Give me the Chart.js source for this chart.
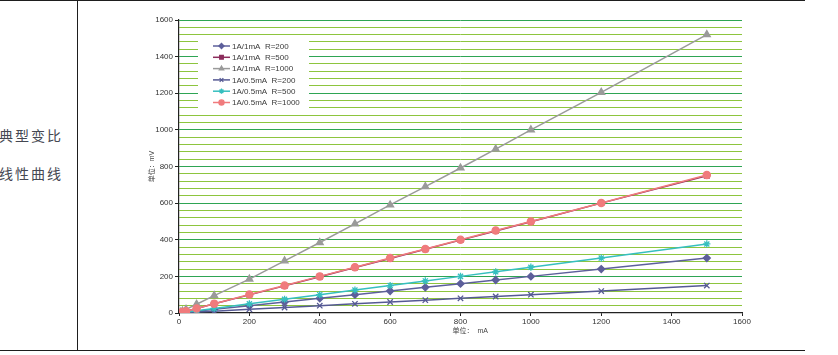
<!DOCTYPE html>
<html>
<head>
<meta charset="utf-8">
<script src="https://cdn.jsdelivr.net/npm/chart.js@4.4.1/dist/chart.umd.min.js"></script>
<style>
  html, body { margin: 0; padding: 0; background: #fff; }
  body { width: 838px; height: 355px; position: relative; overflow: hidden; }
  .hline { position: absolute; left: 0; width: 805px; height: 1px; background: #1e1e1e; }
  .vline { position: absolute; left: 77px; top: 0; width: 1px; height: 351px; background: #1e1e1e; }
  .label { position: absolute; right: 775px; font-family: "Noto Sans CJK SC", sans-serif; font-size: 14px;
           letter-spacing: 2px; color: #454852; white-space: nowrap; line-height: 16px; }
  #chart { position: absolute; left: 0; top: 0; }
</style>
</head>
<body>
<div class="hline" style="top:0"></div>
<div class="hline" style="top:350px"></div>
<div class="vline"></div>
<div class="label" style="top:127px">典型变比</div>
<div class="label" style="top:165px">线性曲线</div>
<canvas id="chart" width="838" height="355"></canvas>
<script>
// current in mA
const currents = [5, 10, 20, 50, 100, 200, 300, 400, 500, 600, 700, 800, 900, 1000, 1200, 1500];

// output in mV
const ratio1mA_R200  = [1, 2, 4, 10, 20, 40, 60, 80, 100, 120, 140, 160, 180, 200, 240, 300];
const ratio1mA_R500  = [2.5, 5, 10, 25, 50, 99, 148, 198, 248, 298, 348, 398, 448, 498, 600, 750];
const ratio1mA_R1000 = [5, 10, 20, 48, 95, 185, 285, 385, 487, 590, 690, 792, 895, 1000, 1205, 1520];
const ratio05mA_R200  = [0.5, 1, 2, 5, 10, 20, 30, 40, 50, 60, 70, 80, 90, 100, 120, 150];
const ratio05mA_R500  = [1.25, 2.5, 5, 12.5, 25, 50, 75, 100, 125, 150, 175, 200, 225, 250, 300, 377];
const ratio05mA_R1000 = [2.5, 5, 10, 25, 50, 101, 150, 200, 250, 300, 350, 400, 450, 500, 601, 754];

const seriesNames = ['1A/1mA  R=200', '1A/1mA  R=500', '1A/1mA  R=1000',
                     '1A/0.5mA  R=200', '1A/0.5mA  R=500', '1A/0.5mA  R=1000'];

const yTicksMax = 1600;
const xTicksMax = 1600;

const FONT = '"Liberation Sans", "Noto Sans CJK SC", sans-serif';
const MAJOR_GRID = '#2ea554';
const MINOR_GRID = '#8dc53e';

function makeSet(i, values, color, style, radius) {
    return {
        label: seriesNames[i],
        data: currents.map((c, k) => ({ x: c, y: values[k] })),
        borderColor: color,
        backgroundColor: color,
        borderWidth: 1.5,
        pointStyle: style,
        pointRadius: radius,
        pointBorderWidth: 1.3,
        pointBackgroundColor: color,
        pointBorderColor: color,
        tension: 0,
        order: 6 - i
    };
}

const datasets = [
    makeSet(0, ratio1mA_R200, '#5d5f9b', 'rectRot', 3.5),
    makeSet(1, ratio1mA_R500, '#8c2d5c', 'rect', 3.3),
    makeSet(2, ratio1mA_R1000, '#9a9a9a', 'triangle', 4),
    makeSet(3, ratio05mA_R200, '#555994', 'crossRot', 3.8),
    makeSet(4, ratio05mA_R500, '#36bfbf', 'star', 3.6),
    makeSet(5, ratio05mA_R1000, '#f07b7d', 'circle', 3.6)
];

// legend drawn inside the plot, white box over the gridlines
const innerLegend = {
    id: 'innerLegend',
    afterDatasetsDraw(chart) {
        const ctx = chart.ctx;
        ctx.save();
        ctx.fillStyle = '#fff';
        ctx.fillRect(198, 37, 111, 76);
        ctx.font = '8px ' + FONT;
        ctx.textBaseline = 'middle';
        chart.data.datasets.forEach((ds, i) => {
            const y = 46 + i * 11.3;
            ctx.strokeStyle = ds.borderColor;
            ctx.lineWidth = 1.5;
            ctx.beginPath();
            ctx.moveTo(213, y);
            ctx.lineTo(230, y);
            ctx.stroke();
            ctx.fillStyle = ds.borderColor;
            ctx.lineWidth = 1.2;
            if (Chart.helpers && Chart.helpers.drawPoint) {
                Chart.helpers.drawPoint(ctx, { pointStyle: ds.pointStyle, radius: 2.6, rotation: 0, borderWidth: 1.2 }, 221.5, y);
            }
            ctx.fillStyle = '#3a3a3a';
            ctx.fillText(ds.label, 232, y + 0.5);
        });
        ctx.restore();
    }
};

new Chart(document.getElementById('chart'), {
    type: 'line',
    data: { datasets: datasets },
    plugins: [innerLegend],
    options: {
        responsive: false,
        animation: false,
        devicePixelRatio: 1,
        layout: { padding: { left: 148, right: 96, top: 20, bottom: 20 } },
        plugins: {
            legend: { display: false },
            tooltip: { enabled: false }
        },
        scales: {
            x: {
                type: 'linear',
                min: 0,
                max: xTicksMax,
                afterFit: s => { s.height = 22; },
                ticks: {
                    stepSize: 200,
                    color: '#333',
                    font: { family: FONT, size: 8 },
                    padding: 1,
                    maxRotation: 0,
                    callback: v => String(v)
                },
                grid: { drawOnChartArea: false, tickLength: 3, tickColor: '#222', tickWidth: 1 },
                border: { color: '#222', width: 1.2 },
                title: { display: true, text: '          单位：  mA', color: '#444', font: { family: FONT, size: 7 }, padding: 0 }
            },
            y: {
                type: 'linear',
                min: 0,
                max: yTicksMax,
                afterFit: s => { s.width = 31; },
                ticks: {
                    stepSize: 40,
                    autoSkip: false,
                    color: '#333',
                    font: { family: FONT, size: 8 },
                    padding: 2,
                    callback: v => (v % 200 === 0 ? String(v) : '')
                },
                grid: {
                    tickLength: 4,
                    lineWidth: 1,
                    color: c => {
                        const v = c.tick ? c.tick.value : 0;
                        if (v === 0) return 'rgba(0,0,0,0)';
                        return v % 200 === 0 ? MAJOR_GRID : MINOR_GRID;
                    },
                    tickColor: c => (c.tick && c.tick.value % 200 === 0 ? '#222' : 'rgba(0,0,0,0)'),
                    tickWidth: 1
                },
                border: { color: '#222', width: 1.2 },
                title: { display: true, text: '单位：mV', color: '#444', font: { family: FONT, size: 7 }, padding: 0 }
            }
        }
    }
});
</script>
</body>
</html>
